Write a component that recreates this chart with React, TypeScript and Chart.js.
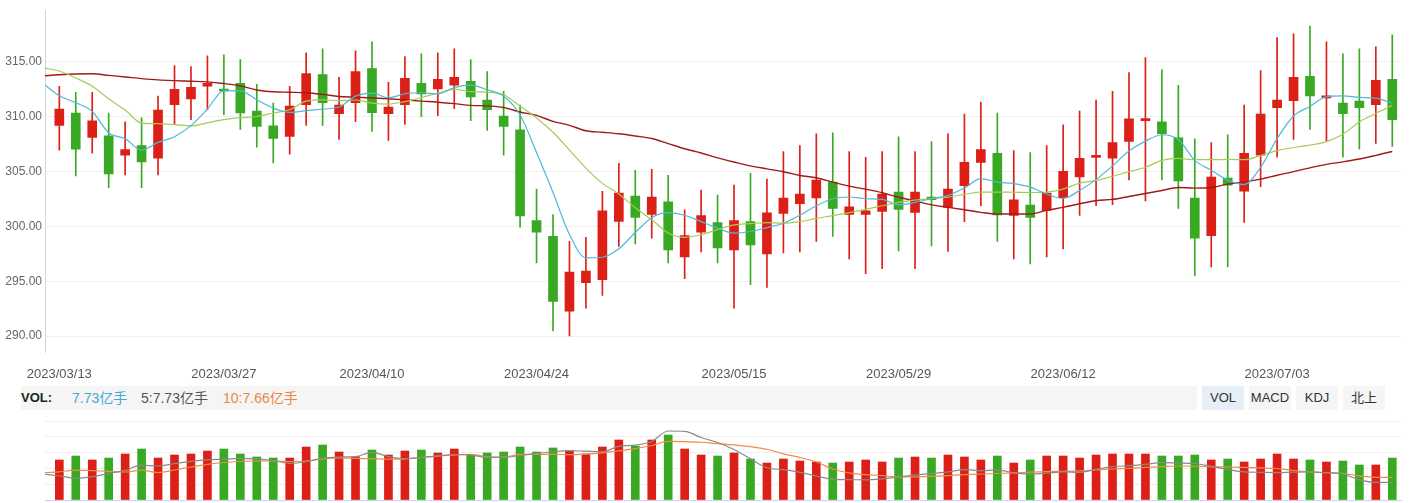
import React, { useEffect, useRef } from 'react';
import { Chart, registerables } from 'chart.js';

Chart.register(...registerables);

// ---------- data ----------
const dates = [
  '2023/03/13', '2023/03/14', '2023/03/15', '2023/03/16', '2023/03/17',
  '2023/03/20', '2023/03/21', '2023/03/22', '2023/03/23', '2023/03/24',
  '2023/03/27', '2023/03/28', '2023/03/29', '2023/03/30', '2023/03/31',
  '2023/04/03', '2023/04/04', '2023/04/06', '2023/04/07',
  '2023/04/10', '2023/04/11', '2023/04/12', '2023/04/13', '2023/04/14',
  '2023/04/17', '2023/04/18', '2023/04/19', '2023/04/20', '2023/04/21',
  '2023/04/24', '2023/04/25', '2023/04/26', '2023/04/27', '2023/04/28',
  '2023/05/04', '2023/05/05',
  '2023/05/08', '2023/05/09', '2023/05/10', '2023/05/11', '2023/05/12',
  '2023/05/15', '2023/05/16', '2023/05/17', '2023/05/18', '2023/05/19',
  '2023/05/22', '2023/05/23', '2023/05/24', '2023/05/25', '2023/05/26',
  '2023/05/29', '2023/05/30', '2023/05/31', '2023/06/01', '2023/06/02',
  '2023/06/05', '2023/06/06', '2023/06/07', '2023/06/08', '2023/06/09',
  '2023/06/12', '2023/06/13', '2023/06/14', '2023/06/15', '2023/06/16',
  '2023/06/19', '2023/06/20', '2023/06/21',
  '2023/06/26', '2023/06/27', '2023/06/28', '2023/06/29', '2023/06/30',
  '2023/07/03', '2023/07/04', '2023/07/05', '2023/07/06', '2023/07/07',
  '2023/07/10', '2023/07/11', '2023/07/12',
];

const opens = [
  309.16, 310.30, 308.08, 308.23, 306.46, 307.34, 306.20, 311.05, 311.59, 312.75,
  312.35, 313.00, 310.48, 309.13, 308.17, 311.05, 313.80, 310.24, 311.23, 314.34,
  310.24, 311.05, 313.00, 312.48, 312.84, 313.18, 311.47, 310.03, 308.77, 300.51,
  299.07, 292.27, 294.87, 295.14, 300.44, 302.75, 301.07, 302.21, 297.21, 299.46,
  300.33, 297.84, 300.42, 297.48, 301.16, 302.06, 302.57, 304.01, 301.07, 301.07,
  301.34, 303.11, 301.25, 302.66, 301.70, 303.68, 305.81, 306.62, 300.98, 301.92,
  301.43, 302.60, 304.49, 306.26, 306.19, 307.72, 309.61, 309.49, 308.05, 302.57,
  299.13, 304.37, 303.20, 306.46, 310.78, 311.41, 313.63, 311.68, 311.20, 311.38,
  311.05, 313.36,
];
const closes = [
  310.66, 307.00, 309.58, 304.76, 306.98, 305.84, 310.57, 312.46, 312.64, 313.00,
  312.30, 310.30, 309.07, 307.99, 310.93, 313.89, 311.23, 311.02, 314.07, 310.33,
  310.84, 313.45, 312.04, 313.36, 313.54, 311.77, 310.60, 309.07, 300.93, 299.46,
  293.17, 295.84, 295.93, 301.41, 303.02, 300.80, 302.66, 297.84, 299.16, 300.96,
  298.02, 300.51, 298.29, 301.23, 302.57, 302.93, 304.19, 301.61, 301.77, 301.41,
  302.93, 301.52, 303.11, 302.42, 303.38, 305.81, 306.98, 301.02, 302.39, 300.80,
  303.02, 305.00, 306.17, 306.44, 307.61, 309.76, 309.76, 308.41, 304.13, 298.92,
  304.46, 303.74, 306.62, 310.21, 311.47, 313.54, 311.86, 311.77, 310.24, 310.78,
  313.27, 309.70,
];
const highs = [
  312.73, 312.19, 312.19, 310.30, 309.49, 309.85, 311.83, 314.61, 314.52, 315.51,
  315.60, 315.15, 312.91, 311.20, 312.73, 315.78, 316.14, 313.54, 315.96, 316.77,
  313.09, 315.42, 315.69, 315.78, 316.14, 315.15, 314.07, 312.28, 311.02, 303.38,
  301.05, 298.62, 298.98, 303.18, 305.72, 305.09, 305.18, 304.64, 301.50, 303.29,
  302.84, 303.74, 304.82, 304.28, 306.80, 307.34, 308.41, 308.50, 306.80, 306.26,
  306.80, 308.14, 306.80, 307.70, 308.41, 310.21, 311.29, 310.30, 306.89, 306.71,
  307.34, 309.22, 310.48, 311.47, 312.28, 313.98, 315.33, 314.25, 312.82, 307.96,
  307.61, 308.32, 311.02, 314.16, 317.16, 317.49, 318.21, 316.77, 315.69, 316.14,
  316.32, 317.40,
];
const lows = [
  306.91, 304.58, 306.64, 303.50, 304.67, 303.50, 304.67, 309.34, 309.70, 310.60,
  310.15, 308.80, 307.18, 305.75, 306.55, 309.16, 309.16, 307.90, 309.52, 308.62,
  307.81, 309.25, 309.97, 310.06, 310.69, 309.61, 308.71, 306.46, 299.91, 296.67,
  290.47, 290.02, 292.54, 293.71, 298.17, 298.38, 298.92, 296.67, 295.23, 297.66,
  296.67, 292.54, 294.69, 294.43, 297.57, 297.66, 298.62, 299.07, 297.03, 295.68,
  296.13, 297.75, 296.13, 298.20, 297.72, 300.42, 301.86, 298.62, 297.03, 296.58,
  297.21, 297.93, 300.98, 301.88, 301.97, 304.22, 302.30, 304.22, 301.61, 295.50,
  296.31, 296.31, 300.35, 303.59, 306.28, 307.90, 308.80, 307.72, 306.28, 307.00,
  307.54, 307.27,
];

// moving averages: first value belongs to the trading day before 2023/03/13
const ma5 = [
  312.99,
  311.87, 311.23, 310.44, 308.50, 307.97, 306.93, 307.63, 308.14, 309.15, 310.66,
  312.34, 312.32, 311.50, 310.75, 310.36, 310.51, 310.66, 310.84, 311.83, 312.10,
  311.69, 312.05, 312.14, 312.04, 312.61, 312.83, 312.41, 311.83, 310.12, 306.71,
  303.07, 299.25, 297.12, 297.18, 297.95, 299.43, 300.78, 301.23, 301.00, 300.42,
  299.83, 299.37, 299.52, 299.88, 300.27, 301.01, 301.86, 302.50, 302.66, 302.50,
  302.44, 301.95, 302.17, 302.50, 302.80, 303.47, 304.33, 304.01, 303.88, 303.56,
  302.93, 302.53, 303.25, 304.24, 305.49, 306.84, 307.74, 308.32, 307.88, 305.99,
  305.09, 304.19, 303.79, 305.36, 307.97, 310.03, 310.90, 311.78, 311.85, 311.72,
  311.65, 311.20,
];
const ma10 = [
  314.41,
  314.12, 313.49, 312.74, 311.59, 310.57, 309.38, 309.34, 309.24, 309.12, 309.40,
  309.69, 309.87, 309.98, 310.30, 310.60, 311.38, 311.50, 311.42, 311.48, 311.20,
  311.11, 311.34, 311.69, 312.12, 312.45, 312.25, 312.20, 311.96, 310.93, 309.85,
  308.55, 306.93, 305.29, 303.90, 302.93, 301.68, 300.60, 299.38, 298.98, 299.23,
  299.70, 300.13, 300.24, 300.33, 300.27, 300.42, 300.71, 300.97, 301.24, 301.54,
  301.86, 302.17, 302.37, 302.51, 302.65, 302.89, 303.11, 303.11, 303.09, 303.07,
  303.11, 303.38, 303.92, 304.15, 304.55, 304.96, 305.36, 305.99, 306.17, 306.05,
  306.05, 306.08, 306.05, 306.42, 306.87, 307.16, 307.38, 307.70, 308.37, 309.49,
  310.26, 310.99,
];
const ma60 = [
  313.68,
  313.78, 313.85, 313.87, 313.72, 313.58, 313.43, 313.31, 313.24, 313.19, 313.13,
  312.98, 312.77, 312.39, 312.23, 312.19, 312.14, 311.99, 311.80, 311.74, 311.67,
  311.59, 311.49, 311.38, 311.28, 311.15, 310.99, 310.95, 310.80, 310.39, 310.08,
  309.54, 309.18, 308.68, 308.55, 308.41, 308.21, 307.98, 307.52, 307.05, 306.66,
  306.22, 305.84, 305.49, 305.22, 304.96, 304.62, 304.41, 304.01, 303.65, 303.37,
  303.05, 302.64, 302.29, 301.94, 301.72, 301.50, 301.26, 301.11, 301.11, 301.11,
  301.45, 301.72, 302.04, 302.32, 302.44, 302.71, 302.98, 303.25, 303.52, 303.47,
  303.52, 303.83, 304.01, 304.28, 304.64, 304.97, 305.31, 305.63, 305.85, 306.11,
  306.44, 306.80,
];

// volume (亿手)
const volumes = [
  7.37, 8.10, 7.37, 7.73, 8.47, 9.39, 7.73, 8.29, 8.47, 9.02,
  9.39, 8.47, 7.92, 7.73, 7.73, 9.76, 10.13, 8.84, 7.97, 9.21,
  8.29, 9.02, 9.21, 8.66, 9.39, 8.38, 8.66, 8.84, 9.76, 8.84,
  9.58, 9.02, 8.47, 9.76, 11.05, 9.94, 11.05, 11.97, 9.39, 8.29,
  8.10, 8.66, 7.55, 6.81, 7.55, 7.18, 7.00, 6.81, 7.00, 7.37,
  7.00, 7.73, 7.92, 7.73, 8.29, 7.92, 7.37, 8.10, 6.81, 7.37,
  8.10, 8.10, 7.73, 8.29, 8.47, 8.47, 8.47, 8.10, 8.10, 8.29,
  7.37, 7.55, 7.00, 7.55, 8.47, 7.55, 7.37, 7.00, 7.18, 6.45,
  6.45, 7.73,
];
const volMa5 = [
  4.79,
  4.42, 4.01, 4.29, 4.88, 5.47, 6.41, 6.26, 6.69, 7.11, 7.40,
  7.50, 7.66, 7.57, 7.27, 6.76, 7.05, 7.73, 7.92, 8.01, 8.78,
  8.01, 7.62, 7.81, 8.12, 8.38, 8.29, 7.86, 7.85, 8.20, 8.58,
  8.89, 9.08, 8.99, 8.91, 9.87, 10.11, 10.77, 12.71, 12.65, 11.51,
  10.59, 9.30, 7.59, 5.93, 5.58, 5.10, 4.42, 3.81, 3.76, 3.70,
  3.89, 4.22, 4.62, 4.86, 5.17, 5.60, 5.40, 5.51, 5.01, 4.79,
  4.94, 5.19, 5.10, 5.65, 6.15, 6.32, 6.56, 6.87, 6.81, 6.72,
  6.19, 5.62, 5.17, 5.10, 5.05, 5.14, 5.17, 5.03, 4.79, 3.72,
  3.26, 3.26,
];
const volMa10 = [
  5.01,
  5.19, 5.52, 5.41, 5.27, 5.16, 5.49, 5.06, 5.52, 6.08, 6.57,
  6.91, 7.09, 7.18, 7.18, 7.05, 7.18, 7.55, 7.75, 7.68, 7.59,
  7.51, 7.57, 7.83, 8.08, 8.32, 8.42, 7.97, 7.88, 8.42, 8.42,
  8.42, 8.34, 8.45, 8.69, 9.04, 9.47, 10.04, 10.79, 10.75, 10.64,
  10.39, 10.17, 9.83, 9.34, 8.49, 7.85, 7.00, 5.71, 5.01, 4.68,
  4.48, 4.24, 4.26, 4.36, 4.49, 4.68, 4.79, 4.88, 4.99, 5.12,
  5.23, 5.29, 5.38, 5.56, 5.71, 5.84, 6.00, 6.13, 6.26, 6.22,
  6.11, 6.08, 6.00, 5.91, 5.80, 5.43, 5.17, 5.06, 4.88, 4.44,
  4.18, 4.18,
];

const xTickLabels = ['2023/03/13', '2023/03/27', '2023/04/10', '2023/04/24', '2023/05/15', '2023/05/29', '2023/06/12', '2023/07/03'];
const yTicks = [290, 295, 300, 305, 310, 315];
const volGridTicks = [0, 2.91, 5.82, 8.73, 11.64, 14.55];
const volHeader = { vol: '7.73亿手', ma5: '5:7.73亿手', ma10: '10:7.66亿手' };
const indicatorTabs = ['VOL', 'MACD', 'KDJ', '北上'];

// ---------- styling ----------
const RED = '#dc1f17';
const GREEN = '#39a923';
const FONT = "'Liberation Sans', Arial, 'Noto Sans CJK SC', sans-serif";
const X_MIN = -0.87;
const X_MAX = 81.53;
const Y_MIN = 288.56;
const Y_MAX = 319.65;
const VOL_MAX = 14.55;

const candleColors = () => closes.map((c, i) => (c >= opens[i] ? RED : GREEN));
const maPoints = (arr: number[]) => arr.map((v, i) => ({ x: i - 1, y: v }));

function MainChart() {
  const ref = useRef<HTMLCanvasElement>(null);
  useEffect(() => {
    const colors = candleColors();
    const lineBase = {
      type: 'line' as const,
      pointRadius: 0,
      borderWidth: 1.2,
      cubicInterpolationMode: 'monotone' as const,
      fill: false,
    };
    const chart = new Chart(ref.current as HTMLCanvasElement, {
      type: 'bar',
      data: {
        datasets: [
          { ...lineBase, label: 'MA5', data: maPoints(ma5), borderColor: '#4cb8da', order: 0 },
          { ...lineBase, label: 'MA10', data: maPoints(ma10), borderColor: '#a6cb55', order: 0 },
          { ...lineBase, label: 'MA60', data: maPoints(ma60), borderColor: '#a11a1a', borderWidth: 1.4, order: 0 },
          {
            type: 'bar', label: 'body',
            data: opens.map((o, i) => ({ x: i, y: [o, closes[i]] })) as any,
            backgroundColor: colors, barThickness: 9, minBarLength: 2, grouped: false, order: 1,
          },
          {
            type: 'bar', label: 'wick',
            data: lows.map((l, i) => ({ x: i, y: [l, highs[i]] })) as any,
            backgroundColor: colors, barThickness: 1, grouped: false, order: 2,
          },
        ] as any,
      },
      options: {
        animation: false,
        responsive: false,
        layout: { padding: { top: 6, right: 9, left: 0, bottom: 0 } },
        plugins: { legend: { display: false }, tooltip: { enabled: false } },
        scales: {
          x: {
            type: 'linear', min: X_MIN, max: X_MAX, offset: false,
            grid: { display: false, drawTicks: false, offset: false },
            border: { display: false },
            ticks: {
              autoSkip: false, maxRotation: 0, padding: 15, color: '#555',
              font: { size: 13, family: FONT },
              callback: (v: any) => dates[v as number] ?? '',
            },
            afterBuildTicks: (s: any) => { s.ticks = xTickLabels.map((l) => ({ value: dates.indexOf(l) })); },
            afterFit: (s: any) => { s.height = 33; },
          },
          y: {
            type: 'linear', min: Y_MIN, max: Y_MAX,
            grid: { color: '#f0f0f0', drawTicks: false },
            border: { color: '#cfd7e3' },
            ticks: {
              padding: 3, color: '#666', font: { size: 12, family: FONT },
              callback: (v: any) => Number(v).toFixed(2),
            },
            afterBuildTicks: (s: any) => { s.ticks = yTicks.map((v) => ({ value: v })); },
            afterFit: (s: any) => { s.width = 45; },
          },
        },
      } as any,
    });
    return () => chart.destroy();
  }, []);
  return <canvas ref={ref} width={1410} height={385} style={{ position: 'absolute', left: 0, top: 0, display: 'block' }} />;
}

function VolumeChart() {
  const ref = useRef<HTMLCanvasElement>(null);
  useEffect(() => {
    const colors = candleColors();
    const lineBase = {
      type: 'line' as const,
      pointRadius: 0,
      borderWidth: 1.2,
      cubicInterpolationMode: 'monotone' as const,
      fill: false,
    };
    const chart = new Chart(ref.current as HTMLCanvasElement, {
      type: 'bar',
      data: {
        datasets: [
          { ...lineBase, label: 'VMA5', data: maPoints(volMa5), borderColor: '#8a8a8a', order: 0 },
          { ...lineBase, label: 'VMA10', data: maPoints(volMa10), borderColor: '#f08c45', order: 0 },
          {
            type: 'bar', label: 'VOL',
            data: volumes.map((v, i) => ({ x: i, y: v })) as any,
            backgroundColor: colors, barThickness: 8, grouped: false, order: 1,
          },
        ] as any,
      },
      options: {
        animation: false,
        responsive: false,
        layout: { padding: { top: 9, right: 9, left: 0, bottom: 0 } },
        plugins: { legend: { display: false }, tooltip: { enabled: false } },
        scales: {
          x: {
            type: 'linear', min: X_MIN, max: X_MAX, offset: false,
            grid: { display: false, drawTicks: false, offset: false },
            border: { display: true, color: '#c6d3ea' },
            ticks: { display: false },
            afterFit: (s: any) => { s.height = 3; },
          },
          y: {
            type: 'linear', min: 0, max: VOL_MAX,
            grid: { color: '#f0f0f0', drawTicks: false },
            border: { display: false },
            ticks: { display: false },
            afterBuildTicks: (s: any) => { s.ticks = volGridTicks.map((v) => ({ value: v })); },
            afterFit: (s: any) => { s.width = 45; },
          },
        },
      } as any,
    });
    return () => chart.destroy();
  }, []);
  return <canvas ref={ref} width={1410} height={91} style={{ position: 'absolute', left: 0, top: 412, display: 'block' }} />;
}

export default function App() {
  const tabLeft = [1202, 1249, 1296, 1343];
  return (
    <div style={{ position: 'absolute', left: 0, top: 0, width: 1410, height: 503, background: '#fff', fontFamily: FONT, overflow: 'hidden' }}>
      <MainChart />
      <div style={{ position: 'absolute', left: 21, top: 386, width: 1176, height: 24, background: '#f5f5f5' }} />
      <div style={{ position: 'absolute', left: 21, top: 386, height: 24, lineHeight: '24px', fontSize: 13, fontWeight: 'bold', color: '#222', whiteSpace: 'nowrap' }}>VOL:</div>
      <div style={{ position: 'absolute', left: 72, top: 386, height: 24, lineHeight: '24px', fontSize: 14, color: '#3eaad6', whiteSpace: 'nowrap' }}>{volHeader.vol}</div>
      <div style={{ position: 'absolute', left: 141, top: 386, height: 24, lineHeight: '24px', fontSize: 14, color: '#555', whiteSpace: 'nowrap' }}>{volHeader.ma5}</div>
      <div style={{ position: 'absolute', left: 223, top: 386, height: 24, lineHeight: '24px', fontSize: 14, color: '#ee8548', whiteSpace: 'nowrap' }}>{volHeader.ma10}</div>
      {indicatorTabs.map((t, i) => (
        <div key={t} style={{
          position: 'absolute', left: tabLeft[i], top: 386, width: 42, height: 24, lineHeight: '24px',
          textAlign: 'center', fontSize: 13, color: '#333', background: i === 0 ? '#e6eef8' : '#f5f5f5', whiteSpace: 'nowrap',
        }}>{t}</div>
      ))}
      <VolumeChart />
    </div>
  );
}
